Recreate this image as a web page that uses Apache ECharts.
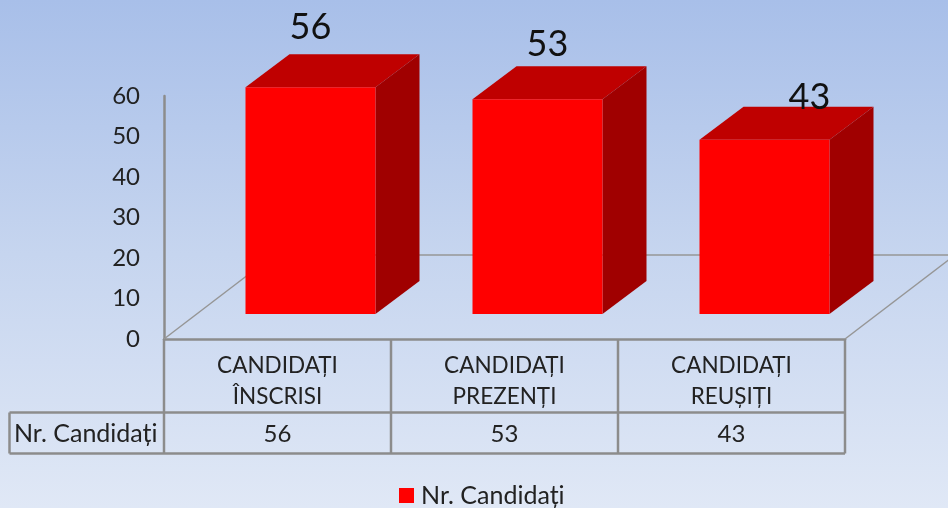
<!DOCTYPE html>
<html>
<head>
<meta charset="utf-8">
<style>html,body{margin:0;padding:0;}#c{width:948px;height:508px;}</style>
<script src="https://cdn.jsdelivr.net/npm/echarts@6/dist/echarts.min.js"></script>
</head>
<body>
<div id="c"></div>
<script>
const categories = ['CANDIDAȚI\nÎNSCRISI', 'CANDIDAȚI\nPREZENȚI', 'CANDIDAȚI\nREUȘIȚI'];
const seriesName = 'Nr. Candidați';
const values = [56, 53, 43];
const yMin = 0, yMax = 60, yStep = 10;

const FONT = 'Lato, "Open Sans", sans-serif';
const TEXT = '#222222', LINE = '#8c8c8c';
const FACE_SHIFT = [33, -25], BAR_W = 130, DEPTH = [44, -33];
const FLOOR = [110, -84];
const ROW1 = 73.5, ROW2 = 114.5, ROW_HEAD_X = 9.5;
const LABEL_SHIFT = [[0, -27], [10, -22], [45, -9]];

function seg(x1, y1, x2, y2, w, c) {
  return {type: 'line', shape: {x1, y1, x2, y2}, style: {stroke: c || LINE, lineWidth: w || 2.5}};
}

const chart = echarts.init(document.getElementById('c'), null, {renderer: 'canvas'});
chart.setOption({
  animation: false,
  backgroundColor: {
    type: 'linear', x: 0, y: 0, x2: 0, y2: 1,
    colorStops: [{offset: 0, color: '#a8bfe9'}, {offset: 0.5, color: '#c6d5ef'}, {offset: 1, color: '#e0e8f6'}]
  },
  grid: {left: 164, right: 103, top: 96, bottom: 169},
  legend: {
    data: [{name: seriesName, icon: 'rect'}],
    left: 394, top: 478, itemWidth: 15, itemHeight: 15, itemGap: 8,
    textStyle: {fontFamily: FONT, fontSize: 25, color: TEXT, padding: [0, 0, 0, 2]}
  },
  xAxis: {
    type: 'category', data: categories,
    axisLine: {show: true, lineStyle: {color: LINE, width: 2.5}},
    axisTick: {show: false},
    axisLabel: {fontFamily: FONT, fontSize: 22.5, color: TEXT, lineHeight: 31, margin: 11, interval: 0}
  },
  yAxis: {
    type: 'value', min: yMin, max: yMax, interval: yStep,
    splitLine: {show: false},
    axisTick: {show: false},
    axisLine: {show: true, lineStyle: {color: LINE, width: 2.5}},
    axisLabel: {fontFamily: FONT, fontSize: 24, color: TEXT, margin: 24}
  },
  series: [
    {
      type: 'custom', name: 'frame', z: 1, silent: true, data: [0],
      renderItem(params, api) {
        const g = params.coordSys, x0 = g.x, y0 = g.y + g.height, x1 = g.x + g.width;
        const children = [
          seg(x0, y0, x0 + FLOOR[0], y0 + FLOOR[1], 1.5, '#969696'),
          seg(x1, y0, x1 + FLOOR[0], y0 + FLOOR[1], 1.5, '#969696'),
          seg(x0 + FLOOR[0], y0 + FLOOR[1], x1 + FLOOR[0], y0 + FLOOR[1], 1.5, '#969696'),
          seg(ROW_HEAD_X, y0 + ROW1, x1, y0 + ROW1),
          seg(ROW_HEAD_X, y0 + ROW2, x1, y0 + ROW2),
          seg(ROW_HEAD_X, y0 + ROW1, ROW_HEAD_X, y0 + ROW2)
        ];
        for (let i = 0; i <= categories.length; i++) {
          const x = x0 + g.width * i / categories.length;
          children.push(seg(x, y0, x, y0 + ROW2));
        }
        children.push({
          type: 'text', style: {
            text: seriesName, x: (ROW_HEAD_X + x0) / 2 - 1, y: y0 + (ROW1 + ROW2) / 2 + 1,
            align: 'center', verticalAlign: 'middle',
            font: '25px ' + FONT, fill: TEXT
          }
        });
        return {type: 'group', children};
      }
    },
    {
      type: 'custom', name: seriesName, z: 3, silent: true,
      itemStyle: {color: '#ff0000'},
      encode: {x: 0, y: 1},
      data: values.map((v, i) => [i, v]),
      renderItem(params, api) {
        const i = api.value(0), v = api.value(1);
        const top = api.coord([i, v]), base = api.coord([i, 0]);
        const g = params.coordSys, y0 = g.y + g.height;
        const cx = top[0] + FACE_SHIFT[0];
        const l = cx - BAR_W / 2, r = cx + BAR_W / 2;
        const t = top[1] + FACE_SHIFT[1], b = base[1] + FACE_SHIFT[1];
        const dx = DEPTH[0], dy = DEPTH[1];
        const s = LABEL_SHIFT[i];
        return {
          type: 'group',
          children: [
            {type: 'polygon', shape: {points: [[l, t], [r, t], [r + dx, t + dy], [l + dx, t + dy]]}, style: {fill: '#bf0000'}},
            {type: 'polygon', shape: {points: [[r, t], [r + dx, t + dy], [r + dx, b + dy], [r, b]]}, style: {fill: '#a00000'}},
            {type: 'rect', shape: {x: l, y: t, width: BAR_W, height: b - t}, style: {fill: '#ff0000'}},
            {type: 'text', style: {
              text: String(v), x: cx + s[0], y: t + dy + s[1],
              align: 'center', verticalAlign: 'middle',
              font: '36px ' + FONT, fill: '#111111'
            }},
            {type: 'text', style: {
              text: String(v), x: top[0], y: y0 + (ROW1 + ROW2) / 2 + 1,
              align: 'center', verticalAlign: 'middle',
              font: '24px ' + FONT, fill: TEXT
            }}
          ]
        };
      }
    }
  ]
});
</script>
</body>
</html>
